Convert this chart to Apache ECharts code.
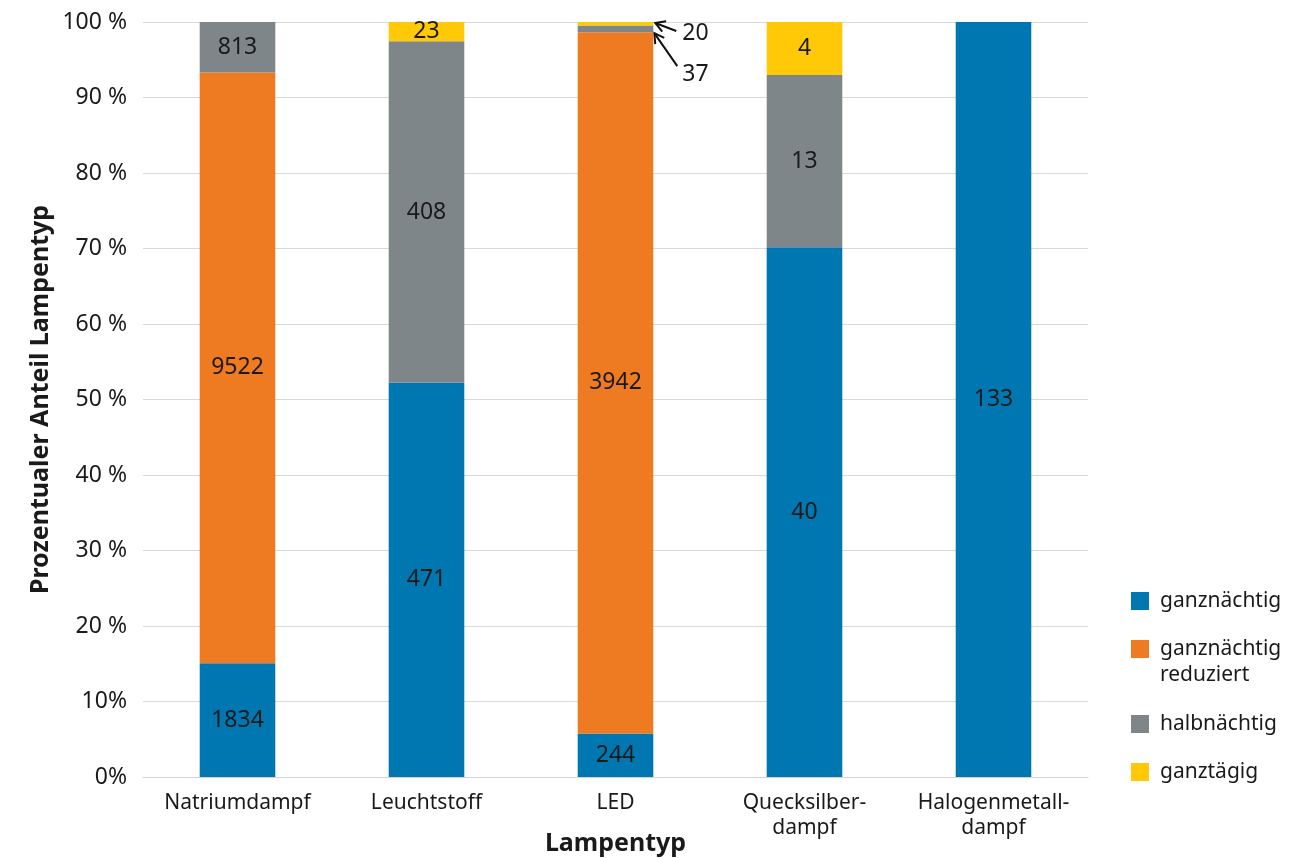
<!DOCTYPE html>
<html>
<head>
<meta charset="utf-8">
<script src="https://cdn.jsdelivr.net/npm/echarts@6/dist/echarts.min.js"></script>
<style>
  html, body { margin: 0; padding: 0; background: #ffffff; }
  #chart { width: 1313px; height: 858px; }
</style>
</head>
<body>
<div id="chart"></div>
<script>
// Lampentypen (Kategorien der x-Achse)
const categories = ['Natriumdampf', 'Leuchtstoff', 'LED', 'Quecksilber-\ndampf', 'Halogenmetall-\ndampf'];
// Schaltungsarten (Reihen), Reihenfolge von unten nach oben
const seriesNames = ['ganznächtig', 'ganznächtig\nreduziert', 'halbnächtig', 'ganztägig'];
// Anzahl Lampen je Lampentyp und Schaltungsart
const ganznaechtig = [1834, 471, 244, 40, 133];
const ganznaechtigReduziert = [9522, 0, 3942, 0, 0];
const halbnaechtig = [813, 408, 37, 13, 0];
const ganztaegig = [0, 23, 20, 4, 0];
// Beschriftungen der y-Achse (0 bis 100 in Zehnerschritten)
const yTickLabels = ['0%', '10%', '20 %', '30 %', '40 %', '50 %', '60 %', '70 %', '80 %', '90 %', '100 %'];

const colors = ['#0077B1', '#EE7B22', '#7E868A', '#FFC907'];
const counts = [ganznaechtig, ganznaechtigReduziert, halbnaechtig, ganztaegig];
const totals = categories.map((_, i) => counts.reduce((s, arr) => s + arr[i], 0));

// LED: kleine Anteile werden ausserhalb des Balkens mit Pfeil beschriftet
const ledIndex = 2;
const calloutSeries = [3, 2];

const FONT = '"Noto Sans", "DejaVu Sans", sans-serif';
const TEXT = '#1a1a1a';

const series = counts.map((arr, s) => ({
  name: seriesNames[s],
  type: 'bar',
  stack: 'anteil',
  barWidth: '40%',
  itemStyle: { color: colors[s] },
  label: {
    show: true,
    position: 'inside',
    color: TEXT,
    fontFamily: FONT,
    fontSize: 23,
    formatter: p => String(p.data.count)
  },
  data: arr.map((n, i) => {
    const item = { value: n / totals[i] * 100, count: n };
    if (n === 0 || (i === ledIndex && calloutSeries.includes(s))) {
      item.label = { show: false };
    }
    return item;
  })
}));

// Eine Legende je Eintrag, damit die Abstaende frei waehlbar sind
function legendFor(idx, top, formatter) {
  const lg = {
    orient: 'vertical',
    left: 1126,
    top: top,
    itemWidth: 18,
    itemHeight: 18,
    icon: 'rect',
    data: [seriesNames[idx]],
    textStyle: {
      color: TEXT,
      fontFamily: FONT,
      fontSize: 21,
      lineHeight: 26,
      padding: [0, 0, 0, 6]
    },
    selectedMode: false
  };
  if (formatter) lg.formatter = formatter;
  return lg;
}

const chart = echarts.init(document.getElementById('chart'), null, { renderer: 'canvas' });

chart.setOption({
  animation: false,
  backgroundColor: '#ffffff',
  grid: { left: 143, right: 225, top: 22, bottom: 81, containLabel: false, outerBoundsMode: 'none' },
  legend: [
    legendFor(0, 583),
    // leere erste Zeile: Symbol steht neben der ersten Textzeile
    legendFor(1, 605, name => '\n' + name),
    legendFor(2, 706),
    legendFor(3, 754)
  ],
  xAxis: {
    type: 'category',
    data: categories,
    axisLine: { lineStyle: { color: '#d4d4d4', width: 1 } },
    axisTick: { show: false },
    axisLabel: {
      interval: 0,
      hideOverlap: false,
      color: TEXT,
      fontFamily: FONT,
      fontSize: 21,
      lineHeight: 25,
      margin: 14
    },
    name: 'Lampentyp',
    nameLocation: 'middle',
    nameGap: 54,
    nameMoveOverlap: false,
    nameTextStyle: { color: TEXT, fontFamily: FONT, fontSize: 25, fontWeight: 'bold' }
  },
  yAxis: {
    type: 'value',
    min: 0,
    max: 100,
    interval: 10,
    axisLine: { show: false },
    axisTick: { show: false },
    splitLine: { lineStyle: { color: '#d9d9d9', width: 1 } },
    axisLabel: {
      color: TEXT,
      fontFamily: FONT,
      fontSize: 23,
      margin: 16,
      formatter: v => yTickLabels[Math.round(v / 10)]
    },
    name: 'Prozentualer Anteil Lampentyp',
    nameLocation: 'middle',
    nameGap: 90,
    nameMoveOverlap: false,
    nameTextStyle: { color: TEXT, fontFamily: FONT, fontSize: 25, fontWeight: 'bold' }
  },
  series: series
});

// Pfeile mit Beschriftung fuer die kleinen LED-Anteile
function barLayout(seriesIndex, dataIndex) {
  const data = chart.getModel().getSeriesByIndex(seriesIndex).getData();
  return data.getItemLayout(dataIndex);
}

function arrow(from, to) {
  const dx = to[0] - from[0], dy = to[1] - from[1];
  const len = Math.sqrt(dx * dx + dy * dy);
  const ux = dx / len, uy = dy / len;
  const head = 11, ang = Math.PI / 6;
  const rot = (a) => [
    to[0] - head * (ux * Math.cos(a) - uy * Math.sin(a)),
    to[1] - head * (ux * Math.sin(a) + uy * Math.cos(a))
  ];
  return [
    { type: 'polyline', shape: { points: [from, to] }, style: { stroke: '#111', lineWidth: 2, fill: null } },
    { type: 'polyline', shape: { points: [rot(ang), to, rot(-ang)] }, style: { stroke: '#111', lineWidth: 2, fill: null } }
  ];
}

const yellow = barLayout(3, ledIndex);
const gray = barLayout(2, ledIndex);
const right = yellow.x + yellow.width;
const yTop = Math.min(yellow.y, yellow.y + yellow.height);
const grayBottom = Math.max(gray.y, gray.y + gray.height);

const tip1 = [right + 2, yTop + 1];
const tip2 = [right + 1, grayBottom + 1];
const graphics = [];
graphics.push(...arrow([tip1[0] + 21, tip1[1] + 8], tip1));
graphics.push(...arrow([tip2[0] + 23, tip2[1] + 33], tip2));
graphics.push({
  type: 'text', x: tip1[0] + 27, y: tip1[1] + 10,
  style: { text: String(ganztaegig[ledIndex]), fill: TEXT, font: '23px ' + FONT, verticalAlign: 'middle' }
});
graphics.push({
  type: 'text', x: tip2[0] + 28, y: tip2[1] + 41,
  style: { text: String(halbnaechtig[ledIndex]), fill: TEXT, font: '23px ' + FONT, verticalAlign: 'middle' }
});
chart.setOption({ graphic: graphics });
</script>
</body>
</html>
